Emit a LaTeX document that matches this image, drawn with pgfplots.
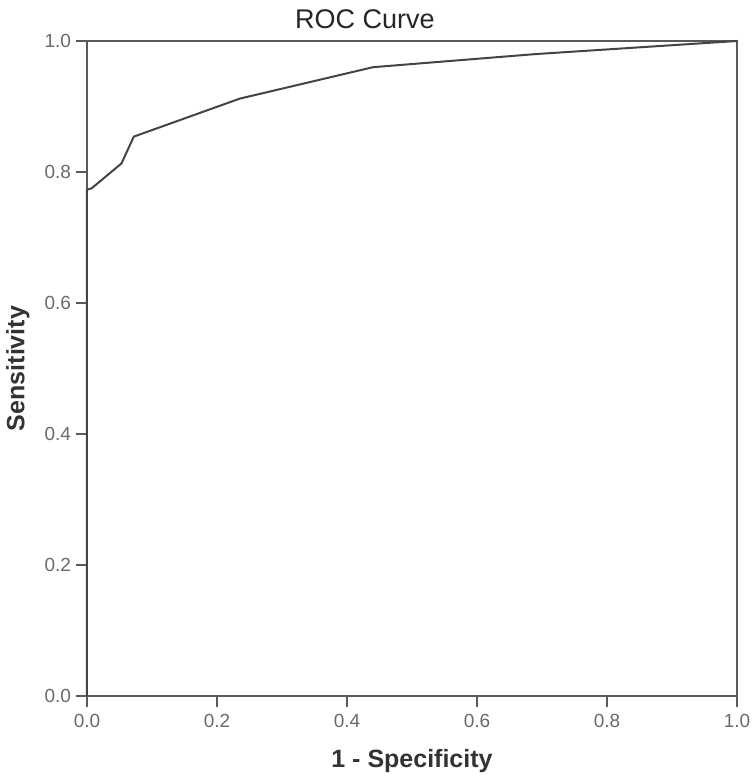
\documentclass[border=0pt]{standalone}
\usepackage{pgfplots}
\pgfplotsset{compat=1.18}
\usepackage{fontspec}
\setmainfont{Liberation Sans}
\definecolor{axisgray}{HTML}{5A5A5A}
\definecolor{curvegray}{HTML}{444444}
\definecolor{tickgray}{HTML}{6A6A6A}
\begin{document}
\begin{tikzpicture}
% 1 px of the reference = 0.5pt
\path[use as bounding box] (-43.5pt,-42pt) rectangle (334pt,348pt);
\begin{axis}[
    at={(0,0)}, anchor=south west,
    scale only axis,
    width=325pt, height=327.5pt,
    xmin=0, xmax=1, ymin=0, ymax=1,
    xtick={0,0.2,0.4,0.6,0.8,1}, ytick={0,0.2,0.4,0.6,0.8,1},
    xticklabels={0.0,0.2,0.4,0.6,0.8,1.0},
    yticklabels={0.0,0.2,0.4,0.6,0.8,1.0},
    tick label style={font=\fontsize{9.5}{10}\selectfont, text=tickgray},
    yticklabel style={xshift=1pt},
    tick align=outside,
    major tick length=5.5pt,
    xtick pos=left, ytick pos=left,
    axis line style={axisgray, line width=0.9pt},
    every tick/.append style={axisgray, line width=0.9pt},
    clip=false,
]
\addplot[curvegray, line width=1pt] coordinates {
(0,0)
(0,0.773)
(0.007,0.775)
(0.053,0.813)
(0.072,0.854)
(0.235,0.912)
(0.44,0.960)
(0.69,0.980)
(1,1)
};
\end{axis}
\node[font=\fontsize{13.5}{15}\selectfont, text=black!85] at (139pt,338.5pt) {ROC Curve};
\node[font=\bfseries\fontsize{12.5}{14}\selectfont, text=black!80] at (162.5pt,-32.5pt) {1 - Specificity};
\node[font=\bfseries\fontsize{12.5}{14}\selectfont, text=black!80, rotate=90] at (-34.5pt,163.75pt) {Sensitivity};
\end{tikzpicture}
\end{document}
